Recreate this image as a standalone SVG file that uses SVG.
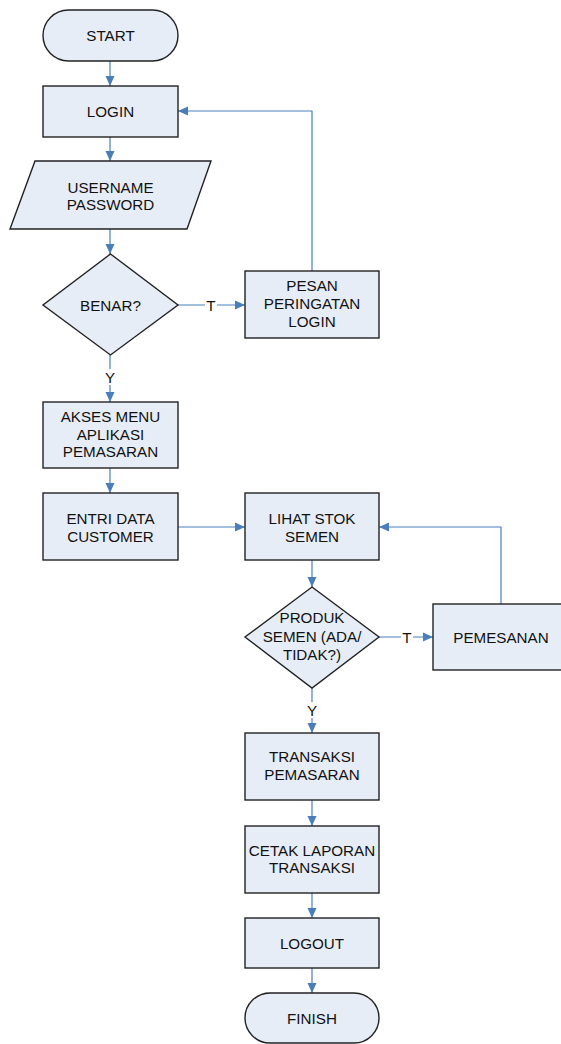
<svg xmlns="http://www.w3.org/2000/svg" width="561" height="1044" viewBox="0 0 561 1044">
<style>
.n{fill:#E7EDF7;stroke:#222;stroke-width:1.4}
.t{font-family:"Liberation Sans",Arial,sans-serif;font-size:15.2px;fill:#111;text-anchor:middle}
.c{fill:none;stroke:#4A7EBB;stroke-width:1.2}
.lb{fill:#fff}
</style>
<defs>
<marker id="ah" markerUnits="userSpaceOnUse" markerWidth="10" markerHeight="10" refX="10" refY="5" orient="auto">
<path d="M0,0.5 L10,5 L0,9.5 z" fill="#4A7EBB"/>
</marker>
</defs>
<rect width="561" height="1044" fill="#fff"/>
<g id="connectors">
<path class="c" d="M110,61 V86" marker-end="url(#ah)"/>
<path class="c" d="M110,137 V161" marker-end="url(#ah)"/>
<path class="c" d="M110,229 V254" marker-end="url(#ah)"/>
<path class="c" d="M178,305 H245" marker-end="url(#ah)"/>
<path class="c" d="M312,271 V111 H178" marker-end="url(#ah)"/>
<path class="c" d="M110,355 V402" marker-end="url(#ah)"/>
<path class="c" d="M110,468 V493" marker-end="url(#ah)"/>
<path class="c" d="M178,527 H245" marker-end="url(#ah)"/>
<path class="c" d="M312,560 V587" marker-end="url(#ah)"/>
<path class="c" d="M379,637 H433" marker-end="url(#ah)"/>
<path class="c" d="M501,604 V527 H379" marker-end="url(#ah)"/>
<path class="c" d="M312,688 V733" marker-end="url(#ah)"/>
<path class="c" d="M312,800 V826" marker-end="url(#ah)"/>
<path class="c" d="M312,893 V918" marker-end="url(#ah)"/>
<path class="c" d="M312,968 V993" marker-end="url(#ah)"/>
<rect class="lb" x="205" y="297" width="12" height="16"/>
<text class="t" x="211" y="310.5">T</text>
<rect class="lb" x="104" y="369" width="12" height="16"/>
<text class="t" x="110" y="382.5">Y</text>
<rect class="lb" x="401" y="629" width="12" height="16"/>
<text class="t" x="407" y="642.5">T</text>
<rect class="lb" x="306" y="702" width="12" height="16"/>
<text class="t" x="312" y="715.5">Y</text>
</g>
<g id="start">
<rect class="n" x="43" y="10" width="135" height="51" rx="25.5"/>
<text class="t" x="110.5" y="41">START</text>
</g>
<g id="login">
<rect class="n" x="43" y="86" width="135" height="51"/>
<text class="t" x="110.5" y="117">LOGIN</text>
</g>
<g id="input">
<polygon class="n" points="35,161 211,161 187,229 10,229"/>
<text class="t" x="110.5" y="192.5">USERNAME</text>
<text class="t" x="110.5" y="210">PASSWORD</text>
</g>
<g id="benar">
<polygon class="n" points="110.5,254 178,305 110.5,355 43,305"/>
<text class="t" x="110.5" y="310.5">BENAR?</text>
</g>
<g id="pesan">
<rect class="n" x="245" y="271" width="134" height="67"/>
<text class="t" x="312" y="290.7">PESAN</text>
<text class="t" x="312" y="308.9">PERINGATAN</text>
<text class="t" x="312" y="327.1">LOGIN</text>
</g>
<g id="akses">
<rect class="n" x="43" y="402" width="135" height="66"/>
<text class="t" x="110.5" y="422.2">AKSES MENU</text>
<text class="t" x="110.5" y="439.7">APLIKASI</text>
<text class="t" x="110.5" y="457.2">PEMASARAN</text>
</g>
<g id="entri">
<rect class="n" x="43" y="493" width="135" height="67"/>
<text class="t" x="110.5" y="523.5">ENTRI DATA</text>
<text class="t" x="110.5" y="541.5">CUSTOMER</text>
</g>
<g id="lihat">
<rect class="n" x="245" y="493" width="134" height="67"/>
<text class="t" x="312" y="523.5">LIHAT STOK</text>
<text class="t" x="312" y="541.5">SEMEN</text>
</g>
<g id="produk">
<polygon class="n" points="312,587 379,637 312,688 245,637"/>
<text class="t" x="312" y="622.5">PRODUK</text>
<text class="t" x="312" y="641.5">SEMEN (ADA/</text>
<text class="t" x="312" y="659.5">TIDAK?)</text>
</g>
<g id="pemesanan">
<rect class="n" x="433" y="604" width="136" height="66"/>
<text class="t" x="501" y="642.5">PEMESANAN</text>
</g>
<g id="transaksi">
<rect class="n" x="245" y="733" width="134" height="67"/>
<text class="t" x="312" y="762.2">TRANSAKSI</text>
<text class="t" x="312" y="779.8">PEMASARAN</text>
</g>
<g id="cetak">
<rect class="n" x="245" y="826" width="134" height="67"/>
<text class="t" x="312" y="855.5">CETAK LAPORAN</text>
<text class="t" x="312" y="873.2">TRANSAKSI</text>
</g>
<g id="logout">
<rect class="n" x="245" y="918" width="134" height="50"/>
<text class="t" x="312" y="948.5">LOGOUT</text>
</g>
<g id="finish">
<rect class="n" x="245" y="993" width="134" height="50" rx="25"/>
<text class="t" x="312" y="1023.5">FINISH</text>
</g>
</svg>
